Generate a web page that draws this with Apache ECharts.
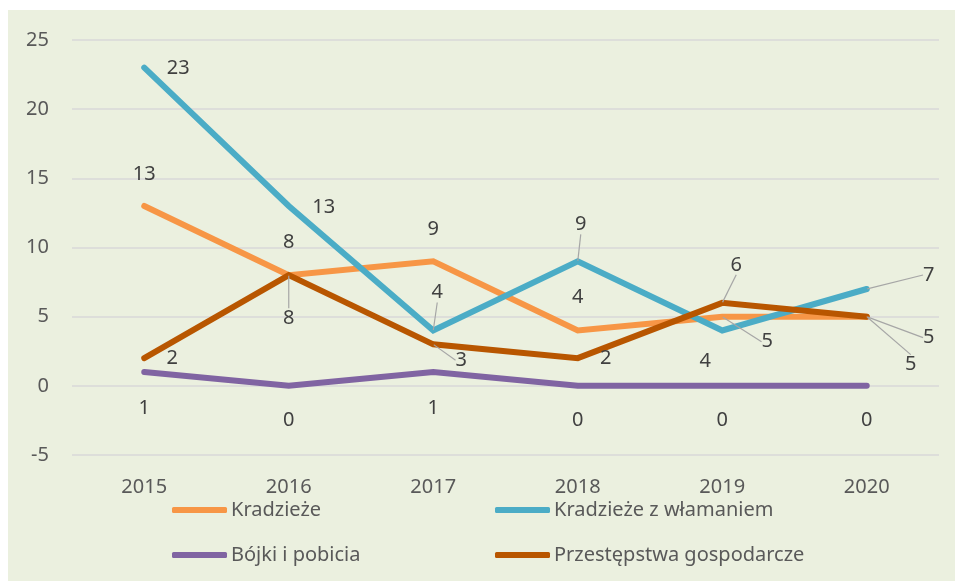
<!DOCTYPE html>
<html>
<head>
<meta charset="utf-8">
<script src="https://cdn.jsdelivr.net/npm/echarts@6/dist/echarts.min.js"></script>
<style>
  html, body { margin: 0; padding: 0; background: #fff; }
  #chart { position: absolute; left: 8px; top: 10px; width: 947px; height: 571px; background: #EBF0DF; }
</style>
</head>
<body>
<div id="chart"></div>
<script>
  // dane z wykresu
  const years = ['2015', '2016', '2017', '2018', '2019', '2020'];
  const kradzieze = [13, 8, 9, 4, 5, 5];
  const wlamania = [23, 13, 4, 9, 4, 7];
  const bojki = [1, 0, 1, 0, 0, 0];
  const gospodarcze = [2, 8, 3, 2, 6, 5];

  // przesuniecia etykiet [dx, dy] wzgledem punktu, i ktore maja linie odniesienia
  const labelOffsets = [
    [[0, -32], [0, 43], [0, -32], [0, -33], [45, 25], [44, 48]],
    [[34, 1], [35, 1], [4, -38], [3, -37], [-17, 31], [62, -14]],
    [[0, 36], [0, 34], [0, 36], [0, 34], [0, 34], [0, 34]],
    [[28, 0], [0, -33], [28, 16], [28, 0], [14, -38], [62, 21]]
  ];
  const leaders = [
    [false, true, false, false, true, true],
    [false, false, true, true, false, true],
    [false, false, false, false, false, false],
    [false, false, true, false, true, true]
  ];

  const font = '"Noto Sans", sans-serif';
  let chart = echarts.init(document.getElementById('chart'));

  function makeSeries(name, values, color, idx) {
    return {
      name: name,
      type: 'line',
      data: values.map((v, i) => ({
        value: v,
        labelLine: { show: leaders[idx][i], lineStyle: { color: '#A6A6A6', width: 1.2 } }
      })),
      lineStyle: { width: 6, color: color, cap: 'round', join: 'miter' },
      itemStyle: { color: color },
      symbol: 'circle',
      symbolSize: 1,
      showSymbol: true,
      label: {
        show: true,
        position: 'inside',
        fontFamily: font,
        fontSize: 20,
        color: '#404040'
      },
      labelLayout: function (p) {
        let o = labelOffsets[idx][p.dataIndex];
        return { dx: o[0], dy: o[1] };
      }
    };
  }

  let option = {
    animation: false,
    textStyle: { fontFamily: font },
    grid: { left: 64, right: 16, top: 30, bottom: 126 },
    xAxis: {
      type: 'category',
      data: years,
      boundaryGap: true,
      axisLine: { show: false },
      axisTick: { show: false },
      axisLabel: { fontFamily: font, fontSize: 20, color: '#595959', margin: 22 }
    },
    yAxis: {
      type: 'value',
      min: -5,
      max: 25,
      interval: 5,
      axisLine: { show: false },
      axisTick: { show: false },
      axisLabel: { fontFamily: font, fontSize: 20, color: '#595959', margin: 23 },
      splitLine: { lineStyle: { color: '#D9D9D9', width: 1.5 } }
    },
    legend: [
      { data: ['Kradzieże'], left: 159, top: 485 },
      { data: ['Kradzieże z włamaniem'], left: 482, top: 485 },
      { data: ['Bójki i pobicia'], left: 159, top: 530 },
      { data: ['Przestępstwa gospodarcze'], left: 482, top: 530 }
    ].map(l => Object.assign(l, {
      icon: 'roundRect',
      itemWidth: 55,
      itemHeight: 6,
      textStyle: { fontFamily: font, fontSize: 20, color: '#595959', padding: [0, 0, 0, -1] }
    })),
    series: [
      makeSeries('Kradzieże', kradzieze, '#F79646', 0),
      makeSeries('Kradzieże z włamaniem', wlamania, '#4BACC6', 1),
      makeSeries('Bójki i pobicia', bojki, '#8064A2', 2),
      makeSeries('Przestępstwa gospodarcze', gospodarcze, '#B85600', 3)
    ]
  };
  chart.setOption(option);
</script>
</body>
</html>
